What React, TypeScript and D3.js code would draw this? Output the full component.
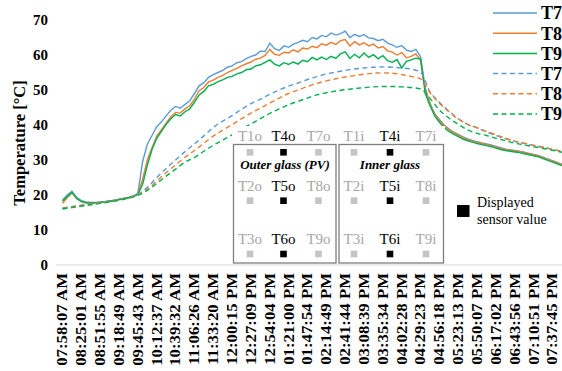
import * as d3 from "d3"

// category labels (every ~27 min)
const xLabels = [
  "07:58:07 AM", "08:25:01 AM", "08:51:55 AM", "09:18:49 AM", "09:45:43 AM", "10:12:37 AM", "10:39:32 AM", "11:06:26 AM", "11:33:20 AM",
  "12:00:15 PM", "12:27:09 PM", "12:54:04 PM", "01:21:00 PM", "01:47:54 PM", "02:14:49 PM", "02:41:44 PM", "03:08:39 PM", "03:35:34 PM",
  "04:02:28 PM", "04:29:23 PM", "04:56:18 PM", "05:23:13 PM", "05:50:07 PM", "06:17:02 PM", "06:43:56 PM", "07:10:51 PM", "07:37:45 PM",
]
const yTicks = [0, 10, 20, 30, 40, 50, 60, 70]

// outer glass sensors, sampled every quarter label step
const T7o = [
  18.6, 20.0, 21.1, 19.3, 18.4, 18.0, 17.9, 17.9, 18.0, 18.1, 18.3, 18.5, 18.8, 19.0, 19.3, 19.7,
  20.5, 29.5, 34.5, 37.0, 39.5, 40.9, 42.6, 44.2, 45.3, 44.8, 45.9, 46.9, 49.0, 51.2, 52.1, 53.6,
  54.4, 55.0, 55.6, 56.5, 56.9, 57.8, 58.1, 59.0, 59.6, 60.0, 61.1, 61.0, 63.4, 61.8, 61.3, 62.6,
  62.2, 63.1, 63.6, 64.2, 63.8, 65.0, 64.6, 65.6, 65.2, 66.3, 65.7, 66.1, 66.8, 65.0, 65.9, 65.3,
  65.8, 64.9, 64.7, 64.1, 64.5, 63.4, 62.9, 62.2, 62.7, 61.4, 61.0, 61.6, 59.5, 50.5, 46.2, 43.2,
  41.6, 40.0, 38.9, 38.0, 37.3, 36.6, 36.0, 35.6, 35.2, 34.9, 34.6, 34.3, 33.9, 33.5, 33.1, 32.9,
  32.7, 32.5, 32.2, 31.9, 31.6, 31.3, 30.8, 30.3, 29.8, 29.3, 28.8,
]
const T8o = [
  17.6, 19.2, 20.6, 19.0, 18.2, 17.8, 17.7, 17.8, 17.9, 18.0, 18.2, 18.4, 18.7, 18.9, 19.2, 19.6,
  20.3, 24.5, 30.0, 33.5, 36.8, 38.7, 40.5, 42.4, 43.6, 43.4, 44.6, 45.5, 47.4, 49.8, 50.7, 52.3,
  52.8, 53.6, 54.2, 55.0, 55.6, 56.2, 56.9, 57.5, 58.0, 58.8, 59.1, 59.9, 61.6, 60.2, 59.9, 60.8,
  60.6, 61.5, 60.9, 62.0, 61.7, 62.5, 62.1, 63.2, 62.8, 63.6, 63.0, 64.1, 64.4, 62.6, 63.8, 62.9,
  63.5, 62.6, 63.1, 62.0, 62.4, 61.2, 60.8, 60.0, 60.7, 59.2, 59.6, 60.3, 58.5, 50.0, 46.0, 43.0,
  41.3, 39.8, 38.7, 37.8, 37.1, 36.4, 35.8, 35.4, 35.0, 34.7, 34.4, 34.1, 33.7, 33.3, 33.0, 32.8,
  32.6, 32.4, 32.1, 31.8, 31.5, 31.2, 30.7, 30.2, 29.7, 29.2, 28.7,
]
const T9o = [
  18.2, 19.6, 20.8, 19.0, 18.1, 17.8, 17.7, 17.8, 17.9, 18.0, 18.2, 18.4, 18.7, 18.9, 19.2, 19.5,
  20.2, 23.0, 28.5, 33.0, 36.2, 38.2, 40.2, 41.8, 43.0, 42.6, 43.8, 44.6, 46.5, 48.6, 49.6, 51.2,
  51.6, 52.4, 52.9, 53.6, 53.9, 54.6, 55.0, 55.8, 56.0, 56.9, 57.2, 57.9, 58.6, 57.4, 56.9, 57.8,
  57.3, 58.0, 57.4, 58.5, 58.1, 59.3, 58.6, 59.4, 58.7, 59.6, 59.0, 60.3, 60.9, 59.0, 60.2, 59.2,
  60.6, 59.3, 60.1, 58.9, 59.8, 58.4, 57.9, 58.7, 56.3, 58.2, 58.6, 59.1, 58.8, 49.0, 45.5, 42.6,
  40.8, 39.3, 38.2, 37.4, 36.7, 36.0, 35.5, 35.1, 34.7, 34.4, 34.1, 33.8, 33.4, 33.0, 32.7, 32.5,
  32.3, 32.1, 31.8, 31.5, 31.2, 30.9, 30.4, 29.9, 29.4, 28.9, 28.4,
]

// inner glass sensors, sampled every half label step
const T7i = [
  16.3, 16.7, 17.1, 17.5, 17.9, 18.3, 18.8, 19.4, 20.2, 22.2, 25.0, 27.6, 30.0, 32.4, 34.6, 36.9,
  39.3, 41.1, 42.7, 44.5, 46.1, 47.4, 48.8, 50.0, 51.1, 52.0, 53.0, 53.8, 54.6, 55.1, 55.6, 56.0,
  56.3, 56.5, 56.6, 56.5, 56.3, 56.0, 55.0, 49.5, 46.5, 44.0, 41.8, 40.2, 39.2, 38.0, 37.0, 36.1,
  35.3, 34.7, 34.1, 33.6, 33.0, 32.4,
]
const T8i = [
  16.2, 16.6, 17.0, 17.4, 17.8, 18.2, 18.7, 19.3, 20.1, 21.7, 24.0, 26.4, 28.6, 30.8, 32.7, 34.8,
  36.8, 38.5, 40.1, 41.8, 43.4, 44.8, 46.3, 47.7, 49.0, 50.0, 51.0, 51.9, 52.6, 53.2, 53.7, 54.1,
  54.5, 54.8, 54.9, 54.8, 54.4, 53.9, 53.2, 49.2, 46.2, 43.8, 41.7, 40.2, 39.2, 38.2, 37.2, 36.2,
  35.4, 34.8, 34.2, 33.7, 33.1, 32.5,
]
const T9i = [
  16.0, 16.4, 16.8, 17.2, 17.6, 18.0, 18.5, 19.1, 19.9, 21.3, 23.3, 25.4, 27.4, 29.4, 30.7, 32.5,
  34.2, 35.7, 37.2, 38.8, 40.3, 41.8, 43.3, 44.6, 45.8, 46.8, 47.7, 48.6, 49.2, 49.7, 50.1, 50.4,
  50.7, 50.9, 51.0, 51.0, 50.9, 50.7, 50.3, 47.6, 44.3, 42.0, 40.2, 38.6, 37.6, 37.0, 36.2, 35.5,
  34.8, 34.3, 33.8, 33.3, 32.8, 32.2,
]

const outerSensors = [["T1o", "T4o", "T7o"], ["T2o", "T5o", "T8o"], ["T3o", "T6o", "T9o"]]
const innerSensors = [["T1i", "T4i", "T7i"], ["T2i", "T5i", "T8i"], ["T3i", "T6i", "T9i"]]

const BLUE = "#5b9bd5"
const ORANGE = "#ed7d31"
const GREEN = "#00b050"
const serif = "Liberation Serif, serif"

const series = [
  { name: "T7o", values: T7o, step: 0.25, color: BLUE, dashed: false },
  { name: "T8o", values: T8o, step: 0.25, color: ORANGE, dashed: false },
  { name: "T9o", values: T9o, step: 0.25, color: GREEN, dashed: false },
  { name: "T7i", values: T7i, step: 0.5, color: BLUE, dashed: true },
  { name: "T8i", values: T8i, step: 0.5, color: ORANGE, dashed: true },
  { name: "T9i", values: T9i, step: 0.5, color: GREEN, dashed: true },
]

function SensorGrid({ rows, cols, title, titleX }: { rows: string[][]; cols: number[]; title: string; titleX: number }) {
  const textY = [140.5, 190.5, 244]
  const boxY = [152.3, 200.7, 254]
  return (
    <g fontFamily={serif}>
      {rows.map((row, r) =>
        row.map((name, c) => {
          const shown = c === 1
          return (
            <g key={name}>
              <text x={cols[c]} y={textY[r]} textAnchor="middle" fontSize={15} fill={shown ? "#000" : "#a6a6a6"}>
                {name}
              </text>
              <rect x={cols[c] - 3.3} y={boxY[r] - 3.3} width={6.6} height={6.6} fill={shown ? "#000" : "#c4c4c4"} />
            </g>
          )
        }),
      )}
      <text x={titleX} y={169} textAnchor="middle" fontSize={13} fontWeight="bold" fontStyle="italic">
        {title}
      </text>
    </g>
  )
}

export default function App() {
  const x = d3.scaleLinear().domain([0, xLabels.length - 1]).range([62.5, 552.5])
  const y = d3.scaleLinear().domain([0, 70]).range([265, 20])

  const pathFor = (s: (typeof series)[0]) => {
    const l = d3
      .line<number>()
      .x((_, i) => x(i * s.step))
      .y((d) => y(d))
      .curve(s.dashed ? d3.curveMonotoneX : d3.curveLinear)
    return l(s.values) || ""
  }

  return (
    <svg width={562} height={371} style={{ position: "absolute", left: 0, top: 0, background: "#fff" }}>
      <rect width={562} height={371} fill="#fff" />

      {/* x axis line */}
      <line x1={56} x2={562} y1={y(0)} y2={y(0)} stroke="#d9d9d9" strokeWidth={1.2} />

      {series.map((s) => (
        <path
          key={s.name}
          d={pathFor(s)}
          fill="none"
          stroke={s.color}
          strokeWidth={1.4}
          strokeDasharray={s.dashed ? "5,3.5" : undefined}
        />
      ))}

      {/* y ticks */}
      {yTicks.map((t) => (
        <text key={t} x={48} y={y(t)} dy="0.35em" textAnchor="end" fontFamily={serif} fontWeight="bold" fontSize={15}>
          {t}
        </text>
      ))}
      <text
        transform={`translate(19,143) rotate(-90)`}
        textAnchor="middle"
        dy="0.35em"
        fontFamily={serif}
        fontWeight="bold"
        fontSize={16.5}
      >
        Temperature [°C]
      </text>

      {/* x tick labels */}
      {xLabels.map((lab, i) => (
        <text
          key={lab}
          transform={`translate(${x(i)},273) rotate(-90) scale(1.2,1)`}
          textAnchor="end"
          dy="0.35em"
          fontFamily={serif}
          fontWeight="bold"
          fontSize={14}
        >
          {lab}
        </text>
      ))}

      {/* inset sensor layout */}
      <rect x={232} y={126} width={213} height={138} fill="#fff" />
      <rect x={233.5} y={144.5} width={102.5} height={118.5} fill="none" stroke="#7f7f7f" strokeWidth={1.3} />
      <rect x={339} y={144.5} width={104.5} height={118.5} fill="none" stroke="#7f7f7f" strokeWidth={1.3} />
      <SensorGrid rows={outerSensors} cols={[250, 283.5, 318.5]} title="Outer glass (PV)" titleX={285} />
      <SensorGrid rows={innerSensors} cols={[354, 390, 426]} title="Inner glass" titleX={390} />

      {/* displayed sensor key */}
      <rect x={457} y={205} width={12.5} height={12} fill="#000" />
      <text x={477} y={207} fontFamily={serif} fontSize={14}>
        Displayed
      </text>
      <text x={477} y={224} fontFamily={serif} fontSize={14}>
        sensor value
      </text>

      {/* legend */}
      {series.map((s, i) => {
        const ly = 13 + i * 20.2
        return (
          <g key={s.name}>
            <line
              x1={493}
              x2={537}
              y1={ly}
              y2={ly}
              stroke={s.color}
              strokeWidth={1.5}
              strokeDasharray={s.dashed ? "5,3.5" : undefined}
            />
            <text x={541} y={ly} dy="0.35em" fontFamily={serif} fontWeight="bold" fontSize={18}>
              {s.name}
            </text>
          </g>
        )
      })}
    </svg>
  )
}
